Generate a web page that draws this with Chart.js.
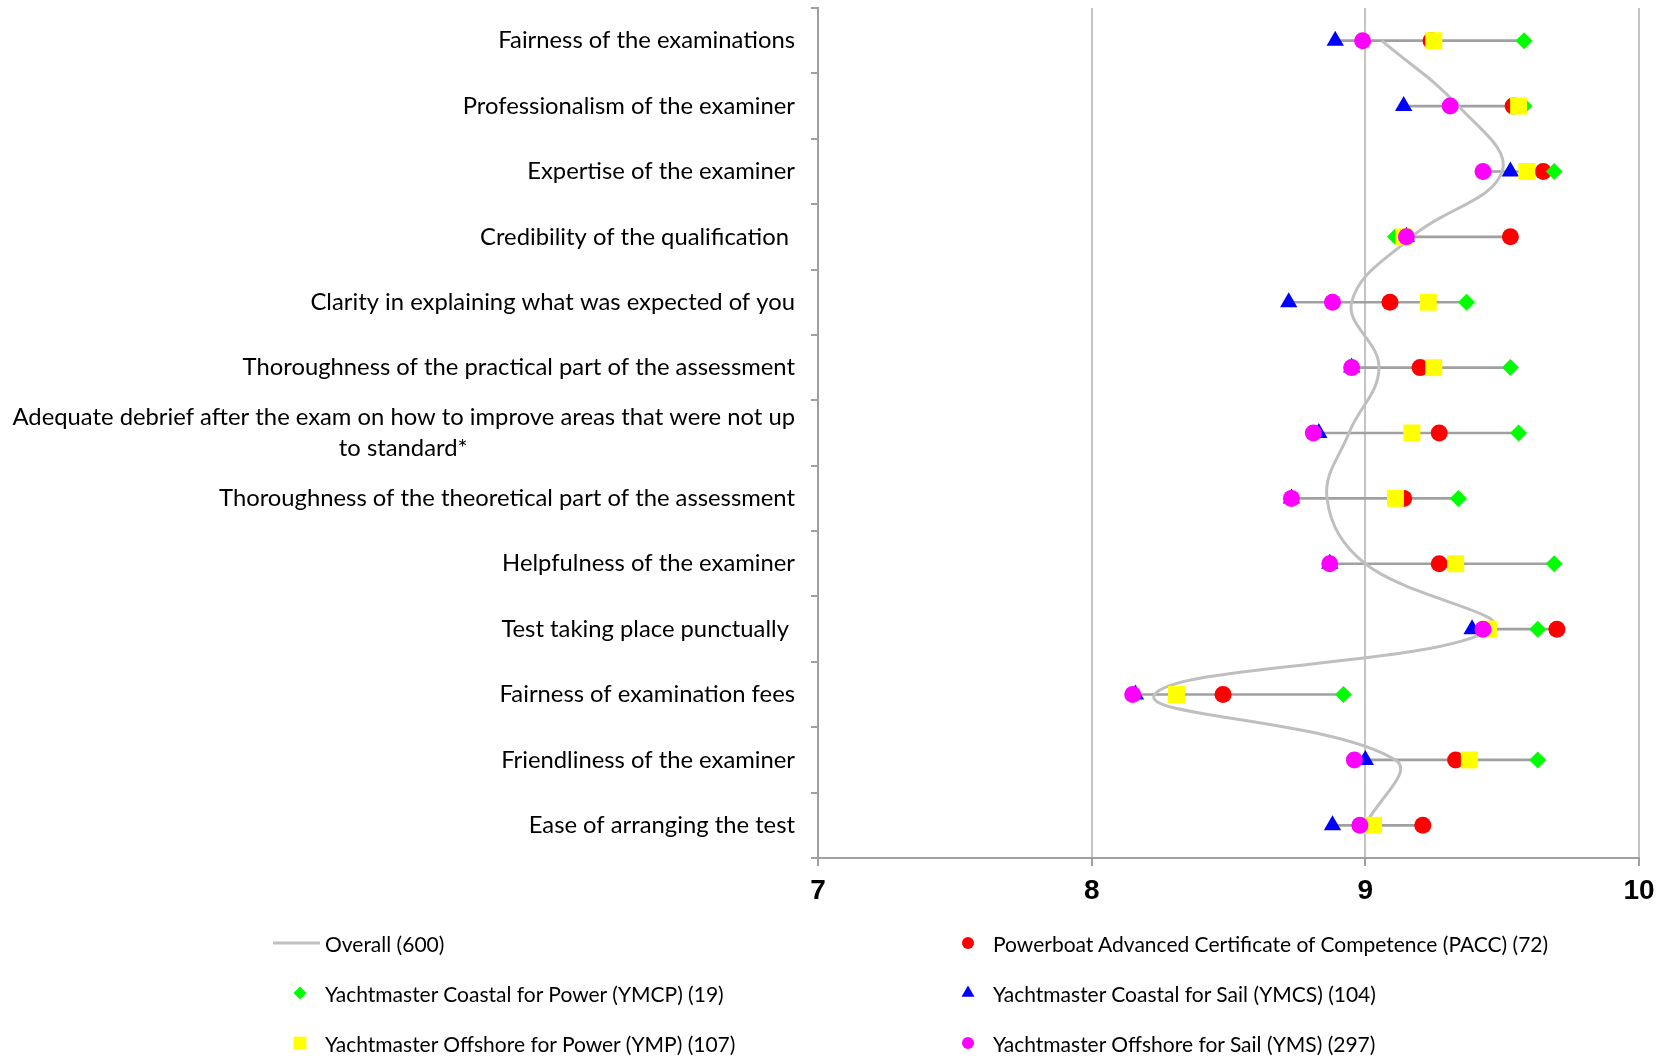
<!DOCTYPE html>
<html>
<head>
<meta charset="utf-8">
<script src="https://cdn.jsdelivr.net/npm/chart.js@4.4.1/dist/chart.umd.min.js"></script>
<style>
  html, body { margin: 0; padding: 0; background: #fff; }
  #wrap { position: relative; width: 1666px; height: 1056px; }
  #chart { position: absolute; left: 0; top: 0; }
  .item { position: absolute; display: flex; align-items: center; height: 30px; font: 21px Lato, sans-serif; color: #000; white-space: nowrap; }
  .item canvas { margin-right: 4px; }
</style>
</head>
<body>
<div id="wrap">
  <canvas id="chart" width="1666" height="1056"></canvas>
  <div id="legend"></div>
</div>
<script>
// categories, top to bottom
const categories = [
    'Fairness of the examinations',
    'Professionalism of the examiner',
    'Expertise of the examiner',
    'Credibility of the qualification ',
    'Clarity in explaining what was expected of you',
    'Thoroughness of the practical part of the assessment',
    ['Adequate debrief after the exam on how to improve areas that were not up',
     'to standard*' + '\u2003'.repeat(18) + ' '],
    'Thoroughness of the theoretical part of the assessment',
    'Helpfulness of the examiner',
    'Test taking place punctually ',
    'Fairness of examination fees',
    'Friendliness of the examiner',
    'Ease of arranging the test'
];

const seriesNames = [
    'Overall (600)',
    'Powerboat Advanced Certificate of Competence (PACC) (72)',
    'Yachtmaster Coastal for Power (YMCP) (19)',
    'Yachtmaster Coastal for Sail (YMCS) (104)',
    'Yachtmaster Offshore for Power (YMP) (107)',
    'Yachtmaster Offshore for Sail (YMS) (297)'
];

const overall = [9.06, 9.34, 9.50, 9.17, 8.95, 9.05, 8.94, 8.86, 9.00, 9.46, 8.23, 9.11, 9.00];
const pacc    = [9.24, 9.54, 9.65, 9.53, 9.09, 9.20, 9.27, 9.14, 9.27, 9.70, 8.48, 9.33, 9.21];
const ymcp    = [9.58, 9.58, 9.69, 9.11, 9.37, 9.53, 9.56, 9.34, 9.69, 9.63, 8.92, 9.63, null];
const ymcs    = [8.89, 9.14, 9.53, 9.15, 8.72, 8.95, 8.83, 8.73, 8.87, 9.39, 8.16, 9.00, 8.88];
const ymp     = [9.25, 9.56, 9.59, 9.14, 9.23, 9.25, 9.17, 9.11, 9.33, 9.45, 8.31, 9.38, 9.03];
const yms     = [8.99, 9.31, 9.43, 9.15, 8.88, 8.95, 8.81, 8.73, 8.87, 9.43, 8.15, 8.96, 8.98];

const xTicks = [7, 8, 9, 10];

// grey line from lowest to highest qualification score per row
const ranges = categories.map((_, i) => {
    const v = [pacc[i], ymcp[i], ymcs[i], ymp[i], yms[i]].filter(x => x != null);
    return [Math.min(...v), Math.max(...v)];
});

function markers(label, data, color, style, radius, order) {
    return {
        type: 'line', label, data, order,
        showLine: false,
        pointStyle: style,
        pointRadius: radius,
        pointHoverRadius: radius,
        pointBackgroundColor: color,
        pointBorderColor: color,
        pointBorderWidth: 0,
        borderColor: color,
        backgroundColor: color
    };
}

const chart = new Chart(document.getElementById('chart'), {
    type: 'line',
    data: {
        labels: categories,
        datasets: [
            {
                label: seriesNames[0], data: overall, order: 7,
                borderColor: '#bfbfbf', backgroundColor: '#bfbfbf',
                borderWidth: 3, pointRadius: 0, tension: 0.4, fill: false
            },
            markers(seriesNames[1], pacc, '#ff0000', 'circle', 8.5, 5),
            markers(seriesNames[2], ymcp, '#00ff00', 'rectRot', 8.5, 4),
            markers(seriesNames[3], ymcs, '#0000ff', 'triangle', 10, 3),
            markers(seriesNames[4], ymp, '#ffff00', 'rect', 12, 2),
            markers(seriesNames[5], yms, '#ff00ff', 'circle', 8.5, 1),
            { type: 'bar', label: 'range', data: ranges, order: 8,
              backgroundColor: '#a0a0a0', barThickness: 2 }
        ]
    },
    options: {
        indexAxis: 'y',
        responsive: false,
        animation: false,
        layout: { autoPadding: false, padding: { top: 8, right: 27, bottom: 148, left: 0 } },
        plugins: { legend: { display: false }, tooltip: { enabled: false } },
        scales: {
            x: {
                type: 'linear', min: 7, max: 10,
                afterBuildTicks: s => { s.ticks = xTicks.map(v => ({ value: v })); },
                afterFit: s => { s.height = 50; },
                grid: { color: '#c4c4c4', lineWidth: 2, tickLength: 8, tickColor: '#a0a0a0' },
                border: { color: '#a0a0a0', width: 2 },
                ticks: { color: '#000', padding: 8, font: { family: 'Liberation Sans, Arial', size: 28, weight: 'bold' } }
            },
            y: {
                type: 'category', offset: true,
                afterFit: s => { s.width = 818; s.paddingTop = 0; s.paddingBottom = 0; },
                grid: { offset: true, drawOnChartArea: false, tickLength: 7, color: '#a0a0a0', lineWidth: 2 },
                border: { color: '#a0a0a0', width: 2 },
                ticks: { color: '#000', padding: 16, autoSkip: false, font: { family: 'Lato', size: 23.8, lineHeight: 1.3 } }
            }
        }
    }
});

// legend in two columns under the chart
const legendBox = document.getElementById('legend');
const legendRadius = [0, 6, 6.5, 7.5, 9, 6];
chart.data.datasets.forEach((ds, i) => {
    if (ds.type === 'bar') return;
    const item = document.createElement('div');
    item.className = 'item';
    item.style.left = (i % 2 ? 941 : 273) + 'px';
    item.style.top = (928 + Math.floor(i / 2) * 50) + 'px';
    const c = document.createElement('canvas');
    c.width = 48; c.height = 24;
    const ctx = c.getContext('2d');
    if (i === 0) {
        ctx.strokeStyle = ds.borderColor;
        ctx.lineWidth = 3;
        ctx.beginPath(); ctx.moveTo(0, 12); ctx.lineTo(47, 12); ctx.stroke();
    } else {
        ctx.fillStyle = ds.pointBackgroundColor;
        Chart.helpers.drawPoint(ctx, { pointStyle: ds.pointStyle, radius: legendRadius[i], rotation: 0, borderWidth: 0 }, 27, 12);
    }
    item.appendChild(c);
    const t = document.createElement('span');
    t.textContent = ds.label;
    item.appendChild(t);
    legendBox.appendChild(item);
});
</script>
</body>
</html>
